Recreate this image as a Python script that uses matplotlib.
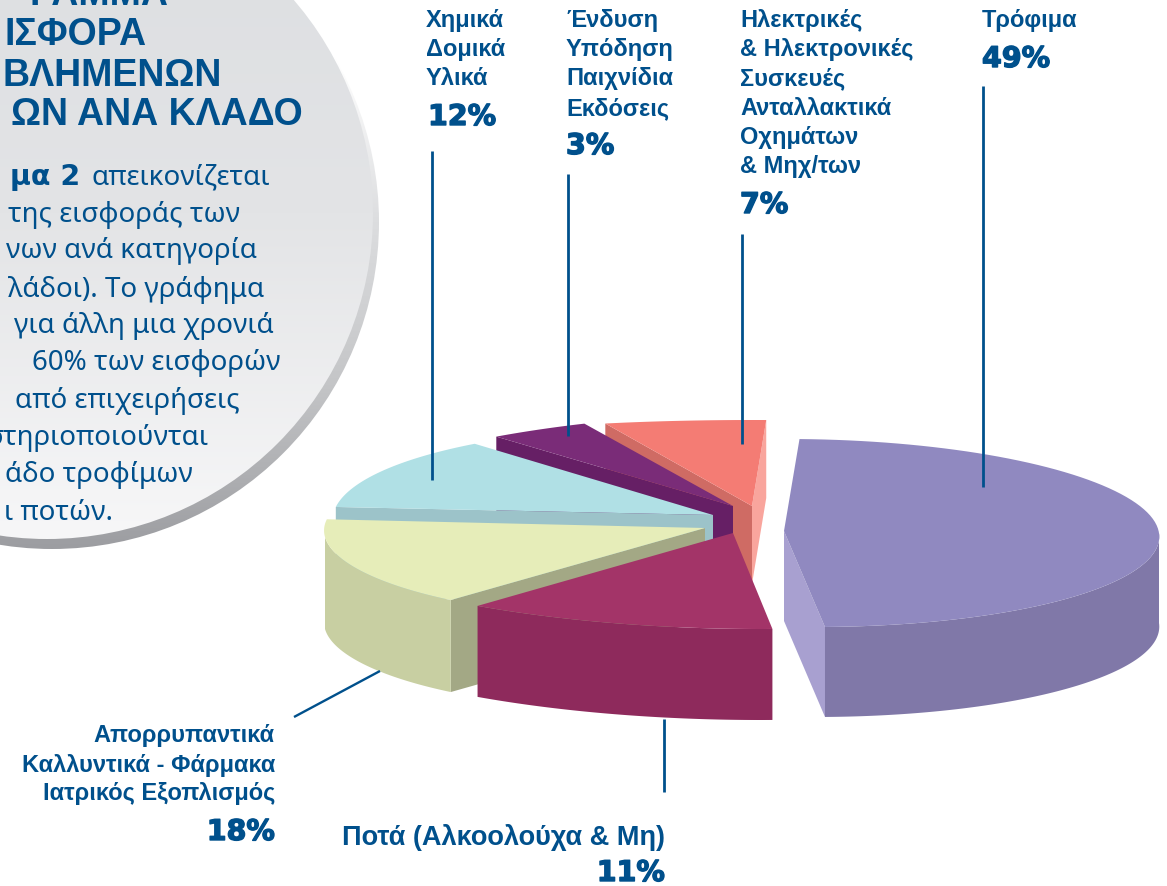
# -*- coding: utf-8 -*-
import numpy as np
import matplotlib
matplotlib.use("Agg")
import matplotlib.pyplot as plt
import matplotlib.patheffects as pe
from matplotlib.colors import LinearSegmentedColormap
from matplotlib.patches import Circle

plt.rcParams["font.family"] = ["Noto Sans", "DejaVu Sans"]

# =========================
# data
categories = ["Τρόφιμα", "Ποτά (Αλκοολούχα & Μη)",
              "Απορρυπαντικά Καλλυντικά - Φάρμακα Ιατρικός Εξοπλισμός",
              "Χημικά Δομικά Υλικά", "Ένδυση Υπόδηση Παιχνίδια Εκδόσεις",
              "Ηλεκτρικές & Ηλεκτρονικές Συσκευές Ανταλλακτικά Οχημάτων & Μηχ/των"]
shares = [49, 11, 18, 12, 3, 7]

# =========================
# layout (every slice has its own ellipse because of the perspective)
START_ANGLE = 88
apex = [(784, 532), (733, 534), (705, 529), (713, 516), (733, 507), (752, 507)]
# ex, ey, rx, ry, shear
ellipse = [(801, 534, 358, 94, -14), (720, 521, 445, 109, -40),
           (605, 538, 280, 80, -23), (719, 531, 385, 104, -35),
           (834, 557, 552, 144, -35), (773, 464.5, 379, 43.5, -20)]
top_colors = ["#9089c0", "#a33468", "#e6edb9", "#b0e0e5", "#7a2c78", "#f47c74"]
side_colors = ["#8078a8", "#8e2a5c", "#c8cfa2", "#9cc3c9", "#661f65", "#cf6b64"]
inner_colors = ["#a8a0d0", None, "#a3a885", "#9cc3c9", "#661f65", "#cf6b64"]
DEPTH = 90
BLUE = "#00508c"
LABEL_FONT = ["Liberation Sans", "DejaVu Sans"]
HEAVY_FONT = ["DejaVu Sans"]

angles = np.array(shares) / sum(shares) * 360
ends = START_ANGLE - np.cumsum(angles)
starts = ends + angles


def arc(i, t1, t2, n=90):
    ex, ey, rx, ry, sh = ellipse[i]
    t = np.radians(np.linspace(t1, t2, n))
    return ex + rx * np.cos(t) + sh * np.sin(t), ey - ry * np.sin(t)


def inner_face(ax, i, theta, color, depth):
    px, py = arc(i, theta, theta, 1)
    ax.fill([px[0], apex[i][0], apex[i][0], px[0]],
            [py[0], apex[i][1], apex[i][1] + depth, py[0] + depth],
            color=color, lw=0)


def front_side(ax, i, t1, t2, depth):
    x, y = arc(i, t1, t2)
    ax.fill(np.r_[x, x[::-1]], np.r_[y, y[::-1] + depth], color=side_colors[i], lw=0)


def top_face(ax, i):
    x, y = arc(i, starts[i], ends[i])
    ax.fill(np.r_[apex[i][0], x], np.r_[apex[i][1], y], color=top_colors[i], lw=0)


def gradient_disk(ax, cx, cy, r, stops):
    cmap = LinearSegmentedColormap.from_list("g", stops)
    grad = np.linspace(0, 1, 256).reshape(-1, 1)
    im = ax.imshow(grad, cmap=cmap, extent=(cx - r, cx + r, cy + r, cy - r),
                   aspect="auto", origin="upper")
    im.set_clip_path(Circle((cx, cy), r, transform=ax.transData))


def draw_circle_text(ax):
    title = [("ΡΑΜΜΑ", 168, 5), ("ΙΣΦΟΡΑ", 147, 45), ("ΒΛΗΜΕΝΩΝ", 222, 86),
             ("ΩΝ ΑΝΑ ΚΛΑΔΟ", 303, 125)]
    for s, x, y in title:
        ax.text(x, y, s, color=BLUE, fontsize=27, fontweight="bold", family=LABEL_FONT,
                ha="right", va="baseline")

    body = [("απεικονίζεται", 270, 185), ("της εισφοράς των", 240, 222),
            ("νων ανά κατηγορία", 257, 258), ("λάδοι). Το γράφημα", 264, 297),
            ("για άλλη μια χρονιά", 274, 333), ("60% των εισφορών", 280, 370),
            ("από επιχειρήσεις", 240, 408), ("στηριοποιούνται", 209, 445),
            ("άδο τροφίμων", 193, 482), ("ι ποτών.", 113, 520)]
    for s, x, y in body:
        ax.text(x, y, s, color=BLUE, fontsize=20, ha="right", va="baseline")
    ax.text(80, 185, "μα 2", color=BLUE, fontsize=20.5, fontweight="bold", family=HEAVY_FONT,
            ha="right", va="baseline")


def draw_labels(ax):
    label_font = dict(color=BLUE, fontsize=17, fontweight="bold", family=LABEL_FONT, va="baseline")
    pct_font = dict(color=BLUE, fontsize=20.5, fontweight="bold", family=HEAVY_FONT, va="baseline",
                    path_effects=[pe.withStroke(linewidth=1, foreground=BLUE)])

    columns = [(426, [27, 56, 85], ["Χημικά", "Δομικά", "Υλικά"], 428, 126, shares[3]),
               (566, [27, 56, 85, 115], ["Ένδυση", "Υπόδηση", "Παιχνίδια", "Εκδόσεις"], 566, 155, shares[4]),
               (740, [27, 56, 85, 115, 144, 173],
                ["Ηλεκτρικές", "& Ηλεκτρονικές", "Συσκευές", "Ανταλλακτικά", "Οχημάτων", "& Μηχ/των"],
                740, 214, shares[5]),
               (982, [27], ["Τρόφιμα"], 982, 68, shares[0])]
    for x, ys, lines, px, py, val in columns:
        for y, s in zip(ys, lines):
            ax.text(x, y, s, ha="left", **label_font)
        ax.text(px, py, f"{val}%", ha="left", **pct_font)

    for y, s in zip([742, 772, 800], ["Απορρυπαντικά", "Καλλυντικά - Φάρμακα", "Ιατρικός Εξοπλισμός"]):
        ax.text(275, y, s, ha="right", **label_font)
    ax.text(275, 841, f"{shares[2]}%", ha="right", **pct_font)

    ax.text(665, 845, "Ποτά (Αλκοολούχα & Μη)", ha="right", **{**label_font, "fontsize": 19.5})
    ax.text(665, 882, f"{shares[1]}%", ha="right", **pct_font)


def main():
    fig = plt.figure(figsize=(11.67, 8.87), dpi=100)
    ax = fig.add_axes([0, 0, 1, 1])

    # ===== circle panel =====
    gradient_disk(ax, 52, 223, 327, ["#ffffff", "#ffffff", "#dcdddf", "#c4c5c7", "#9c9da1"])
    gradient_disk(ax, 47, 214, 326, ["#dcdee1", "#e3e4e6", "#f7f7f8"])
    draw_circle_text(ax)

    # ===== leader lines =====
    ax.plot([664, 664], [720, 793], color=BLUE, lw=2, solid_capstyle="butt")
    ax.plot([294, 380], [718, 672], color=BLUE, lw=1.7, solid_capstyle="butt")

    # ===== slices, back to front =====
    inner_face(ax, 5, starts[5], inner_colors[5], 78)
    inner_face(ax, 5, ends[5], "#f9a59d", 78)
    top_face(ax, 5)

    inner_face(ax, 4, starts[4], inner_colors[4], DEPTH)
    top_face(ax, 4)

    inner_face(ax, 3, starts[3], inner_colors[3], DEPTH)
    top_face(ax, 3)

    inner_face(ax, 2, starts[2], inner_colors[2], 92)
    front_side(ax, 2, max(starts[2], -180), max(ends[2], -180), 92)
    top_face(ax, 2)

    front_side(ax, 1, starts[1], ends[1], 91)
    top_face(ax, 1)

    inner_face(ax, 0, ends[0], inner_colors[0], 90)
    front_side(ax, 0, 0, ends[0], 90)
    top_face(ax, 0)

    # vertical leaders sit on top of the pie
    for x, y0, y1 in [(983, 87, 488), (742, 235, 445), (568, 175, 437), (432, 152, 481)]:
        ax.plot([x, x], [y0, y1], color=BLUE, lw=2, solid_capstyle="butt")

    draw_labels(ax)

    ax.set_xlim(0, 1167)
    ax.set_ylim(887, 0)
    ax.axis("off")
    fig.savefig("out.png", dpi=100)


if __name__ == "__main__":
    main()
